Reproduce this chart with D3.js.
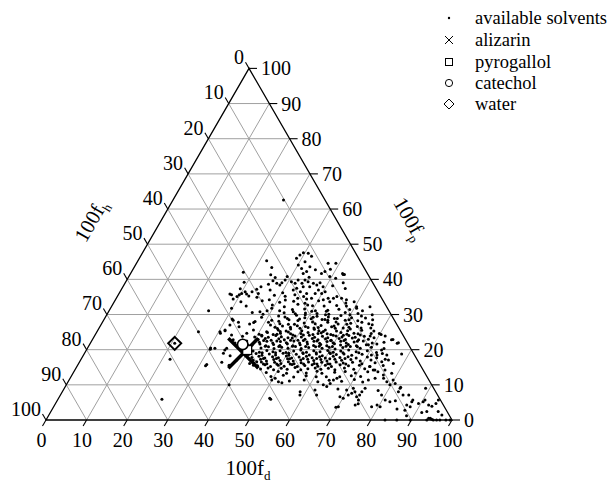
<!DOCTYPE html>
<html>
<head>
<meta charset="utf-8">
<script src="https://cdn.jsdelivr.net/npm/d3@7"></script>
<style>
body{margin:0;background:#fff;}
svg text{font-family:"Liberation Serif","DejaVu Serif","Noto Serif",serif;}
</style>
</head>
<body>
<script>
// tick values shared by the three axes
var tickValues = [0,10,20,30,40,50,60,70,80,90,100];
var legendLabels = ["available solvents","alizarin","pyrogallol","catechol","water"];

// [100fd, 100fp] (100fh = 100 - fd - fp)
var alizarin = [39.1, 19.0];
var pyrogallol = [39.6, 19.9];
var catechol = [37.7, 21.5];
var water = [20.8, 21.8];

var solvents = [
// outliers / sparse
[27.2,62.6],[24.5,31.1],[25,25.1],[30.3,20.5],[31.6,15.4],[21.9,17.3],[25.6,5.9],[40.1,10],[52,6.2],[69.6,3.6],[20.8,21.8],
[31.7,15.8],[30.4,20.1],[31.4,20.4],[34.2,19],[34.1,19.9],[34.3,20.4],[30.3,25.1],[31.3,25.6],[33.6,24.2],[34.7,22.8],
[37.1,24.7],[39.1,21.3],[42.1,16.1],[43.3,15.6],[43.6,16.6],[49.9,11.4],[50.5,11.9],[51.8,10.9],[52.8,10.6],[52.4,5.9],
[36.5,23.8],[38.2,22.5],[37.6,20.8],[35.6,21.9],[36.2,18.3],[38.4,17.1],[35.1,16.4],[39.7,19.4],[37.3,15.6],
// p 40-48
[38.7,46],[39.1,46.9],[39.6,47.6],[40.9,47.4],[42.1,46.6],[41.3,45],[40.1,44.1],[43.2,43.6],[41.4,43.1],[45,42.7],
[43.1,42.2],[42.5,41.7],[47,41.7],[47.6,42.2],[47.2,44.6],[48.6,42.9],[52.5,41.4],[51.2,40.3],[31.7,45.3],[33.9,43.4],
[34.7,41.3],[27.6,42],[39,40.8],[44.5,40.6],[36.2,40.5],[49.5,40.8],[49.1,44.6],[52.2,41.7],
// p 35-40
[29.2,37.3],[27.4,35.8],[27.9,35.6],[28.9,34.4],[29.5,35.1],[29.8,35.6],[30.2,36],[30.8,36.5],[31.5,35.8],[32.3,35.3],
[32.5,36.5],[33.3,37.2],[34,37.9],[34.3,36],[34.5,34.9],[35.5,38.6],[36.7,37],[37.4,38.9],[38.4,38.4],[38.6,39],
[39,39.8],[29.2,39.2],[40.8,39.3],[41.9,38.9],[42.2,39.8],[43.6,38.9],[43.9,39.8],[44.9,39.3],[44.4,37.9],[43,37.5],
[42.4,37],[44.4,36.5],[46,37.9],[46.4,38.9],[47.5,38.4],[48,39],[49.3,37.9],[48.6,37],[48.3,36],[49.9,36],
[50.5,36.5],[46.2,36],[43.5,35.6],[45.9,35.1],[48.1,34.6],[52.2,34.6],[53.5,34.6],[54.1,35.1],[55.5,34.6],[53.7,39],
[52.8,41.4],[40.2,36.2],[38.5,35.5],[41.3,35.2],[51.5,38.2],[55,37.4],[36.1,39.6],
// p 30-35
[35.5,30.6],[37.3,30.8],[38.4,30.1],[38.9,31.1],[39.7,31.8],[39.4,32.7],
[40.8,33.5],[41.9,34.1],[42.6,32.2],[43.4,30.5],[44.1,33.8],[45,31.4],[45.6,32.9],[46.3,30.2],[47.2,33.2],[47.9,31.6],
[48.7,30.4],[49.4,32.5],[50.2,33.9],[50.8,31.1],[51.6,30.3],[52.3,32.4],[53.1,33.6],[53.8,31.2],[54.6,30.1],[55.3,32.6],
[56.4,31.5],[57.2,33.3],[58.4,30.6],[59.1,33.6],[60.4,32.2],[60.6,31.8],[61.7,30.3],[59.1,31.4],[56.9,34.2],[44.7,34.6],
[42,31.1],[47,34.4],[51.2,34.2],[48.1,32.7],[53.6,30.9],[57.8,32.4],[31.2,33.6],[33.1,32.4],[36.3,33.9],[29.8,31.8],
[37.9,34.2],[45.5,30.8],[50,30.9],[62.4,31.1],[63.7,32.2],[65.4,29.9],
// p 25-30
[31.5,28.7],[31.9,28.4],[31.8,27],[33.5,27.8],[34.3,26.5],[36.5,27.3],[37.3,27.7],[37.5,28],[38.5,29.2],[40.9,27.8],
[41.4,28.4],[41.8,27],[43.2,26.4],[44.4,25.6],[38.3,25.6],[41.8,25.1],[31.4,25.4],[30.6,24.7],
[42.5,29.6],[43.3,28.1],[44.2,29.3],[44.9,26.7],[45.6,28.5],[46.1,27.2],[46.8,29.8],[47.3,25.9],[47.9,28.3],[48.5,26.8],
[49.2,29.1],[49.8,27.6],[50.3,25.4],[50.9,28.8],[51.4,26.3],[52,29.5],[52.6,27.4],[53.2,25.8],[53.7,28.6],[54.3,26.9],
[54.9,29.3],[55.5,27.8],[56,25.6],[56.6,28.9],[57.1,26.5],[57.8,29.7],[58.3,27.3],[58.9,25.3],[59.5,28.4],[60.1,26.2],
[60.7,29.1],[61.3,27.5],[62,25.9],[62.7,28.2],[63.4,26.6],[64.2,29],[65,25.5],[65.8,27.4],[66.9,26.2],[68.1,25.3],
[43.9,27.4],[46.5,25.3],[48.9,29.9],[51.7,27.9],[53.9,29.9],[55.7,25.2],[57.5,27.9],[59.9,29.9],[61.6,25.4],[63.9,27.8],
[49.5,26.1],[52.9,26.2],[55.2,28.4],[58.2,26.1],[45.1,25.2],[62.9,29.6],[66.2,28.5],[60.5,27.2],[54.5,25.4],[47.6,27.2],
[66.8,27.1],[67.9,23.9],[69.8,24.6],[68.7,21.4],
[44,26],[47,26.4],[50.6,26.6],[53.9,26.3],[57.6,26.7],[61.4,26.4],[64.5,26.2],
[45,28.9],[48.1,28.7],[51.2,29.2],[54.4,28.6],[57.3,28.9],[60.4,28.5],
// p 20-25
[40.3,24.4],[42.1,24.9],[43.8,24.3],[45.4,24.7],[47.2,25],[48.7,24.2],[50.5,24.6],[52.1,24.9],[53.6,24.3],[55.4,24.8],
[57,24.5],[58.7,24.1],[60.2,24.9],[61.9,24.4],[63.5,24.7],[65.3,24.2],[67.8,24.6],[70.4,24.3],
[39.6,23.6],[41.2,23.9],[43,23.5],[44.6,24],[46.1,23.7],[47.9,23.4],[49.4,23.9],[51.1,23.6],[52.8,24.1],[54.4,23.5],
[56.2,23.8],[57.7,23.4],[59.5,23.9],[61.1,23.6],[62.6,24],[64.4,23.5],[66.5,23.8],[69.1,23.4],[71.6,23.9],
[40.8,22.9],[42.4,23.2],[44.1,22.7],[45.8,23.1],[47.3,22.8],[49,23.3],[50.7,22.7],[52.3,23],[54,23.2],[55.6,22.8],
[57.3,23.1],[58.9,22.7],[60.6,23.2],[62.3,22.9],[63.8,23.3],[65.6,22.8],[67.9,23],
[41.5,22.1],[43.2,22.4],[44.9,21.9],[46.6,22.3],[48.2,22],[49.8,22.5],[51.5,21.9],[53.2,22.2],[54.8,22.4],[56.5,21.8],
[58.1,22.3],[59.7,22],[61.4,22.4],[63,21.9],[64.8,22.2],[66.9,22.5],[69.4,21.9],[72.2,22.1],
[40.1,21.3],[41.9,21.6],[43.6,21.1],[45.3,21.5],[47,21.2],[48.6,21.7],[50.3,21.1],[51.9,21.4],[53.6,21.6],[55.3,21.2],
[56.9,21.5],[58.6,21.1],[60.2,21.7],[61.9,21.3],[63.7,21.5],[65.9,21.1],[68.2,21.4],[70.7,21.6],
[42.7,20.5],[44.4,20.8],[46,20.3],[47.7,20.7],[49.4,20.4],[51,20.9],[52.7,20.3],[54.4,20.6],[56,20.8],[57.8,20.4],
[59.4,20.7],[61.1,20.2],[62.8,20.6],[64.5,20.9],[67.2,20.4],[69.8,20.7],[73.1,20.3],
[75.8,22],[74,22.9],[73.7,22.8],[75.6,21.8],
[41.1,24.1],[44.7,24.4],[48,24.5],[51.3,24.2],[54.7,24.6],[58,24.3],[61.2,24.1],[64.6,24.5],
[42.3,22.6],[45.6,22.5],[48.9,22.7],[52.1,22.6],[55.5,22.5],[58.8,22.6],[62.1,22.6],[65.5,22.4],
[43.5,21],[46.9,20.9],[50.2,21],[53.5,20.9],[56.8,21],[60.1,20.9],[63.4,21],[66.3,20.8],
// p 15-20
[72.7,19.9],[74.7,18.5],[74.9,17.3],[75.8,17.1],[77.5,16.1],[74.4,16.6],[78.2,18.8],[72.3,18.5],
[41.2,19.6],[42.9,19.3],[44.5,19.8],[46.2,19.4],[47.8,19.7],[49.5,19.2],[51.2,19.6],[52.8,19.9],[54.5,19.3],[56.1,19.7],
[57.8,19.4],[59.5,19.8],[61.1,19.3],[62.8,19.6],[64.6,19.9],[66.7,19.4],[69.3,19.7],[71.8,19.2],
[40.6,18.6],[42.3,18.9],[44,18.4],[45.6,18.8],[47.3,18.5],[48.9,19],[50.6,18.4],[52.3,18.7],[53.9,18.9],[55.6,18.5],
[57.2,18.8],[58.9,18.3],[60.6,18.9],[62.2,18.6],[64,18.8],[66.1,18.4],[68.5,18.7],[70.9,18.5],[73.4,18.9],
[41.8,17.8],[43.4,18.1],[45.1,17.6],[46.8,18],[48.4,17.7],[50.1,18.2],[51.7,17.6],[53.4,17.9],[55.1,18.1],[56.7,17.7],
[58.4,18],[60,17.6],[61.7,18.1],[63.5,17.8],[65.4,18],[67.6,17.6],[70.2,17.9],[72.6,17.7],
[42.5,17],[44.2,17.3],[45.9,16.8],[47.5,17.2],[49.2,16.9],[50.8,17.4],[52.5,16.8],[54.2,17.1],[55.8,17.3],[57.5,16.9],
[59.1,17.2],[60.8,16.8],[62.5,17.3],[64.3,17],[66.5,17.2],[69,16.8],[71.5,17.1],
[43.1,16.2],[44.8,16.5],[46.4,16],[48.1,16.4],[49.8,16.1],[51.4,16.6],[53.1,16],[54.7,16.3],[56.4,16.5],[58,16.1],
[59.7,16.4],[61.4,16],[63.2,16.5],[65.1,16.2],[67.3,16.4],[69.8,16],[72.9,16.3],
[44.4,15.4],[46.1,15.7],[47.7,15.2],[49.4,15.6],[51,15.3],[52.7,15.8],[54.3,15.2],[56,15.5],[57.7,15.7],[59.3,15.3],
[61,15.6],[62.7,15.2],[64.6,15.7],[66.8,15.4],[69.4,15.6],[72.1,15.2],[75.3,15.5],
[43.7,19.1],[47,19.1],[50.3,19],[53.7,19.1],[57,19.1],[60.3,19.1],[63.6,19.1],[67.5,19.1],
[44.8,17.5],[48,17.5],[51.3,17.4],[54.6,17.5],[57.9,17.5],[61.2,17.4],[64.9,17.5],
[45.6,15.9],[48.9,15.9],[52.2,15.9],[55.5,15.9],[58.8,15.9],[62,15.9],[65.9,15.9],
// p 10-15
[76.4,14.2],[78.5,13.3],[76.7,12.8],[77.2,11.9],[78.5,10.9],[79.8,11.4],[80.8,10.4],[79.7,10],
[72.2,15.2],[73.5,14.2],[75.1,11.9],[74.9,13.7],[73.7,11.4],[61.3,13.3],[62.9,12.3],[65.1,11.4],[65.7,11.9],[66.2,12.3],
[45.6,14.5],[47.3,14.8],[48.9,14.3],[50.6,14.7],[52.2,14.4],[53.9,14.9],[55.6,14.3],[57.2,14.6],[58.9,14.8],[60.5,14.4],
[62.2,14.7],[64,14.3],[66.1,14.8],[68.6,14.4],[71.2,14.6],[73.9,14.2],
[47.5,13.5],[50.3,13.8],[52.6,13.3],[55.2,13.7],[57.4,13.4],[59.8,13.9],[64.3,13.6],[66.8,13.8],[69.5,13.4],[72.4,13.7],
[49.2,12.4],[52.1,12.7],[54.9,12.2],[57.8,12.6],[60.4,12.3],[68.9,12.6],[71.3,12.4],
[54.4,11.1],[57.9,11.4],[61.5,10.9],[64.1,11.3],[67.3,11],[70.2,11.5],[72.6,10.8],
// p 5-10
[58.6,8],[59,7.1],[62,8.5],[63.1,7.1],[63.3,10],[64.4,9.5],[64.8,10.4],[69.1,6.6],[70.1,6.2],[69.8,8.5],
[70.9,7.1],[71.5,7.6],[71.2,9],[72.1,8],[73.2,6.6],[74.1,5.7],[73.7,7.1],[73.8,8],[74.1,9],
[82.7,9],[84.4,7.1],[79.1,7.1],[80.7,5.7],[82.1,5.2],[83.3,5.5],[82.8,8],[87.5,5.2],[90.3,5.2],[90.5,5.7],
[89,9],[93.8,5.7],[85.8,7.1],[87.5,5.7],[82.7,9.3],[67.5,8.8],[77.6,8.4],
// p 0-5
[70.1,3.8],[74,4.3],[74.6,4.6],[78.3,3.8],[79.4,4.3],[80.4,3.8],[89.4,4.7],[92.1,4.3],[93.7,4.7],
[86.7,4.3],[87.8,3.8],[87,2.8],[92.6,2.4],[94,0.5],[94.4,0.5],[94.9,0.2],[95.4,2.4],[97,0],[95.4,0],[91.5,2.1],
[83.5,0],[86.4,0],[89.7,0],[93.8,0],[96.2,0],[98.5,0],[99.5,0],[88.2,1.2],[84.9,3.1],[96.8,1.4],[93.1,3.9]
];

var width = 613, height = 482;
var side = 406, x0 = 46, y0 = 420;
var tri = side * Math.sqrt(3) / 2;

var x = d3.scaleLinear().domain([0, 100]).range([x0, x0 + side]);
var y = d3.scaleLinear().domain([0, 100]).range([y0, y0 - tri]);
// ternary -> screen
function px(d, p) { return x(d + p / 2); }
function py(p) { return y(p); }

var svg = d3.select("body").append("svg")
    .attr("width", width)
    .attr("height", height);

// grid
var grid = svg.append("g")
    .attr("stroke", "#a0a0a0")
    .attr("stroke-width", 1)
    .attr("fill", "none");
tickValues.slice(1, -1).forEach(function(v) {
  // constant p
  grid.append("line").attr("x1", px(0, v)).attr("y1", py(v)).attr("x2", px(100 - v, v)).attr("y2", py(v));
  // constant d
  grid.append("line").attr("x1", px(v, 0)).attr("y1", py(0)).attr("x2", px(v, 100 - v)).attr("y2", py(100 - v));
  // constant h
  grid.append("line").attr("x1", px(100 - v, 0)).attr("y1", py(0)).attr("x2", px(0, 100 - v)).attr("y2", py(100 - v));
});

// frame
svg.append("path")
    .attr("d", "M" + px(0, 0) + "," + py(0) + "L" + px(100, 0) + "," + py(0) + "L" + px(0, 100) + "," + py(100) + "Z")
    .attr("fill", "none")
    .attr("stroke", "#000")
    .attr("stroke-width", 1.3);

var tl = 7, cs = 0.5, sn = Math.sqrt(3) / 2;
var ticks = svg.append("g").attr("stroke", "#000").attr("stroke-width", 1.1);
var labels = svg.append("g").attr("font-size", 20);

tickValues.forEach(function(v) {
  // bottom: 100fd
  var bx = px(v, 0), by = py(0);
  ticks.append("line").attr("x1", bx).attr("y1", by).attr("x2", bx - tl * cs).attr("y2", by + tl * sn);
  labels.append("text").attr("x", bx - tl * cs - 1).attr("y", by + 27).attr("text-anchor", "middle").text(v);
  // right: 100fp
  var rx = px(100 - v, v), ry = py(v);
  ticks.append("line").attr("x1", rx).attr("y1", ry).attr("x2", rx + 8).attr("y2", ry);
  labels.append("text").attr("x", rx + 12).attr("y", ry).attr("dy", "0.35em").text(v);
  // left: 100fh
  var lx = px(0, 100 - v), ly = py(100 - v);
  ticks.append("line").attr("x1", lx).attr("y1", ly).attr("x2", lx - tl * cs).attr("y2", ly - tl * sn);
  labels.append("text").attr("x", lx - tl * cs - 1.5).attr("y", ly - tl * sn + 2).attr("text-anchor", "end").text(v);
});

// axis titles
function title(tx, ty, rot, sub) {
  var t = svg.append("text")
      .attr("transform", "translate(" + tx + "," + ty + ") rotate(" + rot + ")")
      .attr("text-anchor", "middle")
      .attr("font-size", 21);
  t.append("tspan").text("100f");
  t.append("tspan").attr("font-size", 13).attr("dy", 5).text(sub);
}
title(248, 475, 0, "d");
title(97, 224, -60, "h");
title(404, 222, 60, "p");

// solvents
svg.append("g").selectAll("circle")
    .data(solvents)
  .enter().append("circle")
    .attr("cx", function(d) { return px(d[0], d[1]); })
    .attr("cy", function(d) { return py(d[1]); })
    .attr("r", 1.5)
    .attr("fill", "#000");

// alizarin
var ax = px(alizarin[0], alizarin[1]), ay = py(alizarin[1]);
svg.append("path")
    .attr("d", "M" + (ax - 15) + "," + (ay - 15) + "L" + (ax + 15) + "," + (ay + 15) +
               "M" + (ax - 15) + "," + (ay + 15) + "L" + (ax + 15) + "," + (ay - 15))
    .attr("stroke", "#000").attr("stroke-width", 3.5);

// pyrogallol
svg.append("rect")
    .attr("x", px(pyrogallol[0], pyrogallol[1]) - 4.5).attr("y", py(pyrogallol[1]) - 4.5)
    .attr("width", 9).attr("height", 9)
    .attr("fill", "#fff").attr("stroke", "#000").attr("stroke-width", 1.3);

// catechol
svg.append("circle")
    .attr("cx", px(catechol[0], catechol[1])).attr("cy", py(catechol[1]))
    .attr("r", 5.2)
    .attr("fill", "#fff").attr("stroke", "#000").attr("stroke-width", 1.6);

// water
var wx = px(water[0], water[1]), wy = py(water[1]);
svg.append("path")
    .attr("d", "M" + wx + "," + (wy - 6.5) + "L" + (wx + 6.5) + "," + wy + "L" + wx + "," + (wy + 6.5) + "L" + (wx - 6.5) + "," + wy + "Z")
    .attr("fill", "none").attr("stroke", "#000").attr("stroke-width", 2);

// legend
var lg = svg.append("g");
var rowY = [18, 40, 62, 83, 104];
legendLabels.forEach(function(l, i) {
  lg.append("text").attr("x", 475).attr("y", rowY[i]).attr("dy", "0.35em").attr("font-size", 18.5).text(l);
});
var sx = 449;
lg.append("circle").attr("cx", sx).attr("cy", rowY[0]).attr("r", 1.2).attr("fill", "#000");
lg.append("path").attr("d", "M" + (sx - 4) + "," + (rowY[1] - 4) + "L" + (sx + 4) + "," + (rowY[1] + 4) +
    "M" + (sx - 4) + "," + (rowY[1] + 4) + "L" + (sx + 4) + "," + (rowY[1] - 4)).attr("stroke", "#000").attr("stroke-width", 1);
lg.append("rect").attr("x", sx - 3.5).attr("y", rowY[2] - 3.5).attr("width", 7).attr("height", 7)
    .attr("fill", "none").attr("stroke", "#000").attr("stroke-width", 1);
lg.append("circle").attr("cx", sx).attr("cy", rowY[3]).attr("r", 3.6).attr("fill", "none").attr("stroke", "#000").attr("stroke-width", 1);
lg.append("path").attr("d", "M" + sx + "," + (rowY[4] - 5) + "L" + (sx + 5) + "," + rowY[4] + "L" + sx + "," + (rowY[4] + 5) + "L" + (sx - 5) + "," + rowY[4] + "Z")
    .attr("fill", "none").attr("stroke", "#000").attr("stroke-width", 1);
</script>
</body>
</html>
